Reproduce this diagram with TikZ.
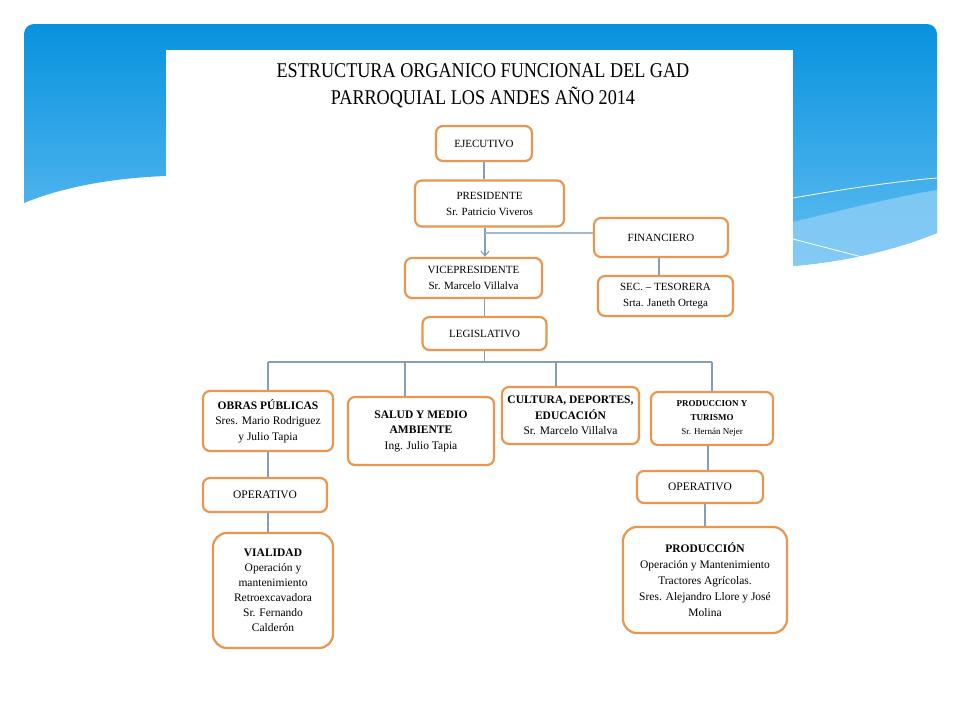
\documentclass[tikz,border=0pt]{standalone}
\usepackage{fontspec}
\setmainfont{Liberation Serif}
\usetikzlibrary{arrows.meta}

\definecolor{slidetop}{RGB}{8,146,222}
\definecolor{slidebot}{RGB}{98,190,242}
\definecolor{slidelight}{RGB}{140,206,246}
\definecolor{boxorange}{RGB}{233,150,78}
\definecolor{linkblue}{RGB}{132,158,186}
\definecolor{finblue}{RGB}{160,186,212}

\begin{document}
\begin{tikzpicture}[x=1pt, y=-1pt,
  box/.style={draw=boxorange, line width=2.2pt, rounded corners=7pt, fill=white,
    align=center, inner sep=2pt, font=\fontsize{11}{16}\selectfont},
  unit/.style={box, font=\fontsize{11.5}{15.5}\selectfont},
  link/.style={draw=linkblue, line width=1.1pt}]

\useasboundingbox (0,0) rectangle (960,720);

% slide background
\shade[top color=slidetop, bottom color=slidebot]
  (24,203) -- (24,34) .. controls (24,28.5) and (28.5,24) .. (34,24) -- (927,24)
  .. controls (932.5,24) and (937,28.5) .. (937,34) -- (937,233)
  .. controls (890,252) and (840,262) .. (793,266) -- (166,176)
  .. controls (110,178) and (60,188) .. (24,203) -- cycle;
\fill[slidelight, opacity=.8] (793,222) .. controls (850,208) and (900,196) .. (937,190)
  -- (937,233) .. controls (890,252) and (840,262) .. (793,266) -- cycle;
\draw[white, line width=.8pt] (793,198) .. controls (850,188) and (900,181) .. (937,178);
\draw[white, line width=.8pt] (793,239) -- (866,258);

% page
\fill[white] (166,50) rectangle (793,720);

\node[font=\fontsize{21}{27}\selectfont, align=center] (title) at (483,86)
  {\scalebox{0.865}[1]{ESTRUCTURA ORGANICO FUNCIONAL DEL GAD}\\
   \scalebox{0.865}[1]{PARROQUIAL LOS ANDES AÑO 2014}};

% top of the chart
\node[box, minimum width=96, minimum height=35] (ejec) at (484,143.5) {EJECUTIVO};
\node[box, minimum width=149, minimum height=46] (pres) at (489.5,203.5) {PRESIDENTE\\Sr. Patricio Viveros};
\node[box, minimum width=134, minimum height=39] (fin) at (661,237.5) {FINANCIERO};
\node[box, minimum width=137, minimum height=40] (vice) at (473.5,278) {VICEPRESIDENTE\\Sr. Marcelo Villalva};
\node[box, minimum width=135, minimum height=40] (sec) at (665.5,296) {SEC. -- TESORERA\\Srta. Janeth Ortega};
\node[box, minimum width=124, minimum height=33] (legis) at (484.5,333.5) {LEGISLATIVO};

\coordinate (tee) at (485,233);
\coordinate (bus) at (484,362);
\coordinate (dropb) at (405,0);
\coordinate (dropc) at (556,0);

% units
\node[unit, minimum width=130, minimum height=60] (obras) at (268,421) {\textbf{OBRAS PÚBLICAS}\\Sres. Mario Rodriguez\\y Julio Tapia};
\node[unit, minimum width=146, minimum height=68] (salud) at (421,431) {\textbf{SALUD Y MEDIO}\\\textbf{AMBIENTE}\\Ing. Julio Tapia};
\node[unit, minimum width=137, minimum height=57] (cult) at (570.5,415.5) {\textbf{CULTURA, DEPORTES,}\\\textbf{EDUCACIÓN}\\Sr. Marcelo Villalva};
\node[box, font=\fontsize{9}{14}\selectfont, minimum width=122, minimum height=53] (prodtur) at (712,418.5) {\textbf{PRODUCCION Y}\\\textbf{TURISMO}\\Sr. Hernán Nejer};

\node[unit, minimum width=124, minimum height=34] (opl) at (265,495) {OPERATIVO};
\node[unit, minimum width=126, minimum height=32] (opr) at (700,487) {OPERATIVO};

\node[unit, font=\fontsize{11.5}{15}\selectfont, minimum width=120, minimum height=115, rounded corners=14pt] (vial) at (273,590.5)
  {\textbf{VIALIDAD}\\Operación y\\mantenimiento\\Retroexcavadora\\Sr. Fernando\\Calderón};
\node[unit, font=\fontsize{11.5}{16}\selectfont, minimum width=164, minimum height=106, rounded corners=14pt] (prodn) at (705,580)
  {\textbf{PRODUCCIÓN}\\Operación y Mantenimiento\\Tractores Agrícolas.\\Sres. Alejandro Llore y José\\Molina};

% connectors
\draw[link] (ejec.south) -- (ejec.south |- pres.north);
\draw[link, -{Straight Barb[length=5pt, width=8pt]}] (pres.south -| tee) -- (vice.north -| tee);
\draw[draw=finblue, line width=2pt] (tee) -- (tee -| fin.west);
\draw[link] (fin.south -| 659,0) -- (sec.north -| 659,0);
\draw[link] (vice.south -| legis.north) -- (legis.north);
\draw[link] (legis.south) -- (legis.south |- bus);
\draw[link] (bus -| obras.north) -- (bus -| prodtur.north);
\draw[link] (bus -| obras.north) -- (obras.north);
\draw[link] (bus -| dropb) -- (salud.north -| dropb);
\draw[link] (bus -| dropc) -- (cult.north -| dropc);
\draw[link] (bus -| prodtur.north) -- (prodtur.north);
\draw[link] (obras.south) -- (obras.south |- opl.north);
\draw[link] (opl.south -| obras.south) -- (vial.north -| obras.south);
\draw[link] (prodtur.south -| 708,0) -- (opr.north -| 708,0);
\draw[link] (opr.south -| prodn.north) -- (prodn.north);

\end{tikzpicture}
\end{document}
